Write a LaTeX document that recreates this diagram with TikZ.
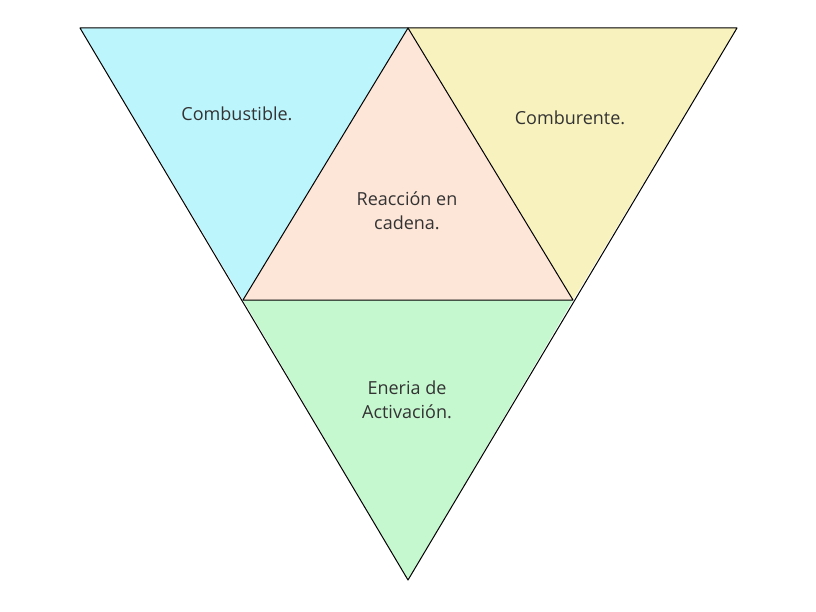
\documentclass[tikz,border=0pt]{standalone}
\usepackage{fontspec}
\setmainfont{Open Sans}
\definecolor{cA}{HTML}{BDF5FD}
\definecolor{cB}{HTML}{FDE5D8}
\definecolor{cC}{HTML}{F8F2BE}
\definecolor{cD}{HTML}{C6F8D0}
\begin{document}
\begin{tikzpicture}[x=1pt,y=-1pt,
  tri/.style={draw=black,line width=1pt,line join=round},
  lbl/.style={font=\fontsize{18}{24}\selectfont,color=black!80,align=center}]
\useasboundingbox (0,0) rectangle (816,612);
\coordinate (A) at (80,28);
\coordinate (B) at (737,28);
\coordinate (C) at (408,580);
\coordinate (T) at (408,28);
\coordinate (L) at (243,300);
\coordinate (R) at (573,300);
\fill[cA] (A)--(T)--(L)--cycle;
\fill[cC] (T)--(B)--(R)--cycle;
\fill[cB] (T)--(R)--(L)--cycle;
\fill[cD] (L)--(R)--(C)--cycle;
\draw[tri] (A)--(B)--(C)--cycle;
\draw[tri] (T)--(R)--(L)--cycle;
\node[lbl] (n1) at (237,114) {Combustible.};
\node[lbl] (n2) at (570,118) {Comburente.};
\node[lbl] (n3) at (407,211) {Reacción en\\cadena.};
\node[lbl] (n4) at (407,400) {Eneria de\\Activación.};
\end{tikzpicture}
\end{document}
